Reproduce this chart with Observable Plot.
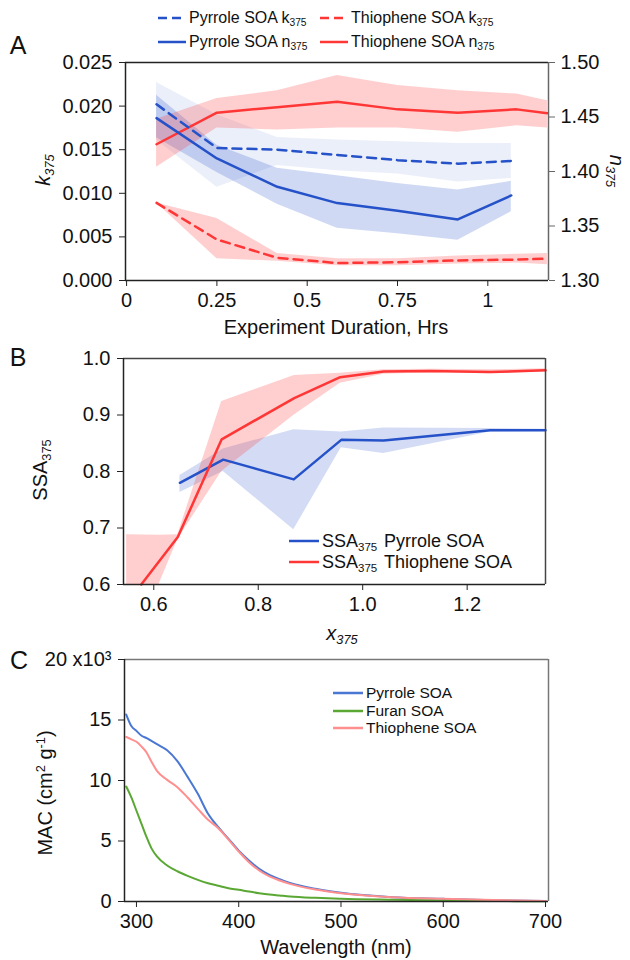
<!DOCTYPE html>
<html>
<head>
<meta charset="utf-8">
<script src="https://cdn.jsdelivr.net/npm/d3@7"></script>
<script src="https://cdn.jsdelivr.net/npm/@observablehq/plot@0.6"></script>
<style>
  body { margin: 0; background: #fff; }
  #fig { position: relative; width: 630px; height: 960px; overflow: hidden;
         font-family: "Liberation Sans", Arial, sans-serif; color: #111; }
  .panel { position: absolute; left: 0; }
  .lab { position: absolute; white-space: nowrap; line-height: 1; }
  .c { transform: translate(-50%, -50%); }
  .rl { transform: translate(-50%, -50%) rotate(-90deg); }
  .rr { transform: translate(-50%, -50%) rotate(90deg); }
  .lab sub { font-size: 0.64em; vertical-align: -0.32em; line-height: 0; }
  .lab sup { font-size: 0.64em; vertical-align: 0.55em; line-height: 0; }
  .leg { position: absolute; display: flex; align-items: center; white-space: nowrap; line-height: 1; }
  .leg svg { display: block; margin-right: 3px; }
  .leg sub { font-size: 0.64em; vertical-align: -0.32em; line-height: 0; }
</style>
</head>
<body>
<div id="fig"></div>
<script>
// ---------- Panel A: k375 and n375 against experiment duration ----------
const pyrHrs   = [0.083, 0.25, 0.417, 0.583, 0.75, 0.917, 1.065];
const pyrK     = [0.0202, 0.0152, 0.0150, 0.0144, 0.0138, 0.0134, 0.0137];
const pyrKLo   = [0.0161, 0.0107, 0.0132, 0.0126, 0.0122, 0.0113, 0.0117];
const pyrKHi   = [0.0227, 0.0190, 0.0164, 0.0161, 0.0159, 0.0157, 0.0157];
const pyrN     = [1.449, 1.412, 1.386, 1.371, 1.364, 1.356, 1.378];
const pyrNLo   = [1.431, 1.399, 1.370, 1.348, 1.343, 1.337, 1.363];
const pyrNHi   = [1.470, 1.424, 1.403, 1.396, 1.389, 1.383, 1.391];

const thiHrs   = [0.083, 0.25, 0.417, 0.583, 0.75, 0.917, 1.08, 1.165];
const thiK     = [0.0089, 0.0047, 0.0026, 0.0020, 0.0021, 0.0023, 0.0024, 0.0025];
const thiKLo   = [0.0089, 0.0025, 0.0022, 0.0017, 0.0017, 0.0019, 0.0020, 0.0018];
const thiKHi   = [0.0089, 0.0071, 0.0031, 0.0025, 0.0025, 0.0028, 0.0030, 0.0031];
const thiN     = [1.425, 1.454, 1.459, 1.464, 1.457, 1.454, 1.457, 1.4535];
const thiNLo   = [1.404, 1.440, 1.438, 1.440, 1.440, 1.436, 1.442, 1.440];
const thiNHi   = [1.448, 1.467, 1.474, 1.488, 1.479, 1.474, 1.471, 1.465];

const hrsTicks = [0, 0.25, 0.5, 0.75, 1];
const kTicks   = [0, 0.005, 0.010, 0.015, 0.020, 0.025];
const nTicks   = [1.30, 1.35, 1.40, 1.45, 1.50];

// ---------- Panel B: SSA375 against x375 ----------
const pyrX     = [0.650, 0.733, 0.868, 0.959, 1.040, 1.244, 1.350];
const pyrSSA   = [0.780, 0.821, 0.786, 0.856, 0.855, 0.873, 0.873];
const pyrSSALo = [0.763, 0.800, 0.697, 0.842, 0.832, 0.870, 0.871];
const pyrSSAHi = [0.793, 0.840, 0.874, 0.870, 0.877, 0.876, 0.875];

const thiX     = [0.576, 0.646, 0.730, 0.869, 0.957, 1.040, 1.130, 1.244, 1.350];
const thiSSA   = [0.600, 0.684, 0.857, 0.930, 0.967, 0.977, 0.978, 0.976, 0.979];
const thiBandX = [0.548, 0.610, 0.646, 0.730, 0.869, 0.957, 1.040, 1.130, 1.244, 1.350];
const thiSSALo = [0.600, 0.600, 0.680, 0.800, 0.900, 0.956, 0.972, 0.975, 0.973, 0.976];
const thiSSAHi = [0.688, 0.687, 0.688, 0.924, 0.970, 0.974, 0.980, 0.981, 0.980, 0.982];

const x375Ticks = [0.6, 0.8, 1.0, 1.2];
const ssaTicks  = [0.6, 0.7, 0.8, 0.9, 1.0];

// ---------- Panel C: mass absorption cross-section spectra ----------
const wavelength = [290, 295, 300, 305, 310, 315, 320, 330, 340, 350, 360, 370, 380,
                    390, 400, 410, 420, 430, 440, 450, 475, 500, 550, 600, 650, 700];
const macPyrrole   = [15450, 14500, 14100, 13700, 13500, 13250, 13000, 12500, 11600, 10300, 8900, 7250, 6140,
                      5180, 4200, 3390, 2700, 2200, 1840, 1540, 1050, 720, 360, 220, 100, 40];
const macFuran     = [9500, 8600, 7500, 6400, 5300, 4350, 3720, 2980, 2500, 2120, 1790, 1510, 1300,
                      1100, 970, 820, 690, 580, 500, 420, 300, 220, 140, 80, 40, 20];
const macThiophene = [13600, 13400, 13200, 12800, 12300, 11500, 10800, 10050, 9450, 8600, 7660, 6750, 6060,
                      5120, 4130, 3250, 2560, 2070, 1740, 1460, 990, 690, 360, 220, 120, 40];
const wlTicks  = [300, 400, 500, 600, 700];
const macTicks = [0, 5000, 10000, 15000, 20000];

// ---------- helpers ----------
const blue = "#2551c9", red = "#ff3636";
const cBlue = "#4a77d2", cGreen = "#5aa833", cPink = "#ff8f8f";
const font = "'Liberation Sans', Arial, sans-serif";
const rows = (xs, ys, lo, hi) => xs.map((x, i) => ({x, y: ys[i], lo: lo ? lo[i] : null, hi: hi ? hi[i] : null}));
// n375 shares the panel with k375: 1.30–1.50 maps onto 0–0.025
const nToK = n => (n - 1.3) / 8;
const style = {fontFamily: font, fontSize: "20px", background: "transparent", overflow: "visible", color: "#111"};
const fig = document.getElementById("fig");

function place(node, top) {
  const d = document.createElement("div");
  d.className = "panel";
  d.style.top = top + "px";
  d.appendChild(node);
  fig.appendChild(d);
}
function label(html, x, y, cls, size) {
  const d = document.createElement("div");
  d.className = "lab " + cls;
  d.style.left = x + "px";
  d.style.top = y + "px";
  d.style.fontSize = size + "px";
  d.innerHTML = html;
  fig.appendChild(d);
}
function legend(html, x, y, color, dash, size, sw) {
  const d = document.createElement("div");
  d.className = "leg";
  d.style.left = x + "px";
  d.style.top = (y - size / 2) + "px";
  d.style.height = size + "px";
  d.style.fontSize = size + "px";
  const w = sw || 28;
  d.innerHTML = `<svg width="${w}" height="6"><line x1="0" x2="${w}" y1="3" y2="3" stroke="${color}" stroke-width="2.5" ${dash ? 'stroke-dasharray="9,5"' : ""}/></svg><span>${html}</span>`;
  fig.appendChild(d);
}

// ---------- Panel A ----------
const xA = [-0.003, 1.168];
const pyrKRows = rows(pyrHrs, pyrK, pyrKLo, pyrKHi);
const pyrNRows = rows(pyrHrs, pyrN, pyrNLo, pyrNHi);
const thiKRows = rows(thiHrs, thiK, thiKLo, thiKHi);
const thiNRows = rows(thiHrs, thiN, thiNLo, thiNHi);

const plotA = Plot.plot({
  width: 630, height: 340,
  marginTop: 62, marginBottom: 60, marginLeft: 125, marginRight: 82,
  style,
  x: {domain: xA},
  y: {domain: [0, 0.025]},
  marks: [
    Plot.areaY(pyrKRows, {x: "x", y1: "lo", y2: "hi", fill: blue, fillOpacity: 0.09}),
    Plot.areaY(pyrNRows, {x: "x", y1: d => nToK(d.lo), y2: d => nToK(d.hi), fill: blue, fillOpacity: 0.22}),
    Plot.areaY(thiNRows, {x: "x", y1: d => nToK(d.lo), y2: d => nToK(d.hi), fill: red, fillOpacity: 0.24}),
    Plot.areaY(thiKRows, {x: "x", y1: "lo", y2: "hi", fill: red, fillOpacity: 0.24}),
    Plot.lineY(thiNRows, {x: "x", y: d => nToK(d.y), stroke: red, strokeWidth: 2.5}),
    Plot.lineY(thiKRows, {x: "x", y: "y", stroke: red, strokeWidth: 2.5, strokeDasharray: "9,6"}),
    Plot.lineY(pyrNRows, {x: "x", y: d => nToK(d.y), stroke: blue, strokeWidth: 2.5}),
    Plot.lineY(pyrKRows, {x: "x", y: "y", stroke: blue, strokeWidth: 2.5, strokeDasharray: "9,6"}),
    Plot.ruleY([0.025], {stroke: "#222", strokeWidth: 1.5}),
    Plot.ruleY([0], {stroke: "#222", strokeWidth: 1.5}),
    Plot.ruleX([xA[0]], {stroke: "#222", strokeWidth: 1.5}),
    Plot.ruleX([xA[1]], {stroke: "#666", strokeWidth: 1.5}),
    Plot.axisX({ticks: hrsTicks, tickFormat: d => String(d), tickSize: 6, tickPadding: 6, label: null, stroke: "#222"}),
    Plot.axisY({ticks: kTicks, tickFormat: d3.format(".3f"), tickSize: 6, tickPadding: 7, label: null, stroke: "#222"}),
    Plot.axisY({anchor: "right", ticks: nTicks.map(nToK), tickFormat: v => (1.3 + v * 8).toFixed(2),
                tickSize: 6, tickPadding: 6, label: null, stroke: "#666"})
  ]
});
place(plotA, 0);

// ---------- Panel B ----------
const xB = [0.542, 1.35];
const pyrSSARows = rows(pyrX, pyrSSA, pyrSSALo, pyrSSAHi);
const thiSSARows = rows(thiX, thiSSA);
const thiBandRows = rows(thiBandX, thiBandX.map(() => null), thiSSALo, thiSSAHi);

const plotB = Plot.plot({
  width: 630, height: 310,
  marginTop: 18, marginBottom: 66, marginLeft: 123, marginRight: 85,
  style,
  x: {domain: xB},
  y: {domain: [0.6, 1.0]},
  marks: [
    Plot.areaY(pyrSSARows, {x: "x", y1: "lo", y2: "hi", fill: blue, fillOpacity: 0.2}),
    Plot.areaY(thiBandRows, {x: "x", y1: "lo", y2: "hi", fill: red, fillOpacity: 0.24}),
    Plot.lineY(pyrSSARows, {x: "x", y: "y", stroke: blue, strokeWidth: 2.5}),
    Plot.lineY(thiSSARows, {x: "x", y: "y", stroke: red, strokeWidth: 2.5}),
    Plot.ruleY([1.0], {stroke: "#444", strokeWidth: 1.5}),
    Plot.ruleX([xB[1]], {stroke: "#444", strokeWidth: 1.5}),
    Plot.ruleY([0.6], {stroke: "#222", strokeWidth: 1.5}),
    Plot.ruleX([xB[0]], {stroke: "#222", strokeWidth: 1.5}),
    Plot.axisX({ticks: x375Ticks, tickFormat: d3.format(".1f"), tickSize: 6, tickPadding: 6, label: null, stroke: "#222"}),
    Plot.axisY({ticks: ssaTicks, tickFormat: d3.format(".1f"), tickSize: 6, tickPadding: 7, label: null, stroke: "#222"})
  ]
});
place(plotB, 340);

// ---------- Panel C ----------
const xC = [288.3, 702.9];
const spectra = [
  ...rows(wavelength, macPyrrole).map(d => ({...d, s: "Pyrrole SOA"})),
  ...rows(wavelength, macFuran).map(d => ({...d, s: "Furan SOA"})),
  ...rows(wavelength, macThiophene).map(d => ({...d, s: "Thiophene SOA"}))
];
const plotC = Plot.plot({
  width: 630, height: 310,
  marginTop: 9, marginBottom: 59, marginLeft: 124, marginRight: 82,
  style,
  x: {domain: xC},
  y: {domain: [0, 20000]},
  color: {domain: ["Pyrrole SOA", "Furan SOA", "Thiophene SOA"], range: [cBlue, cGreen, cPink]},
  marks: [
    Plot.lineY(spectra, {x: "x", y: "y", stroke: "s", strokeWidth: 2, curve: "monotone-x"}),
    Plot.ruleY([20000], {stroke: "#777", strokeWidth: 1.5}),
    Plot.ruleX([xC[1]], {stroke: "#777", strokeWidth: 1.5}),
    Plot.ruleY([0], {stroke: "#222", strokeWidth: 1.5}),
    Plot.ruleX([xC[0]], {stroke: "#222", strokeWidth: 1.5}),
    Plot.axisX({ticks: wlTicks, tickSize: 6, tickPadding: 6, label: null, stroke: "#222"}),
    Plot.axisY({ticks: macTicks, tickFormat: d => d === 20000 ? "20 x10³" : String(d / 1000),
                tickSize: 6, tickPadding: 7, label: null, stroke: "#222"})
  ]
});
place(plotC, 650);

// ---------- titles, panel letters and legends ----------
label("A", 18, 45, "c", 25);
label("B", 18, 357, "c", 25);
label("C", 19, 660, "c", 25);

label("Experiment Duration, Hrs", 336, 327, "c", 20);
label("<i>k<sub>375</sub></i>", 43, 170, "rl", 20);
label("<i>n<sub>375</sub></i>", 617, 171, "rr", 20);

label("SSA<sub>375</sub>", 40, 470, "rl", 20);
label("<i>x<sub>375</sub></i>", 342, 633, "c", 20);

label("MAC (cm<sup>2</sup> g<sup>-1</sup>)", 45, 793, "rl", 20);
label("Wavelength (nm)", 336, 947, "c", 20);

legend("Pyrrole SOA k<sub>375</sub>", 158, 18, blue, true, 16);
legend("Thiophene SOA k<sub>375</sub>", 320, 18, red, true, 16);
legend("Pyrrole SOA n<sub>375</sub>", 158, 42, blue, false, 16);
legend("Thiophene SOA n<sub>375</sub>", 320, 42, red, false, 16);

const ssaTag = "<span style='display:inline-block;width:62px'>SSA<sub>375</sub></span>";
legend(ssaTag + "Pyrrole SOA", 289, 541, blue, false, 18, 30);
legend(ssaTag + "Thiophene SOA", 289, 562, red, false, 18, 30);

legend("Pyrrole SOA", 333, 693, cBlue, false, 15.5, 30);
legend("Furan SOA", 333, 711, cGreen, false, 15.5, 30);
legend("Thiophene SOA", 333, 728, cPink, false, 15.5, 30);
</script>
</body>
</html>
